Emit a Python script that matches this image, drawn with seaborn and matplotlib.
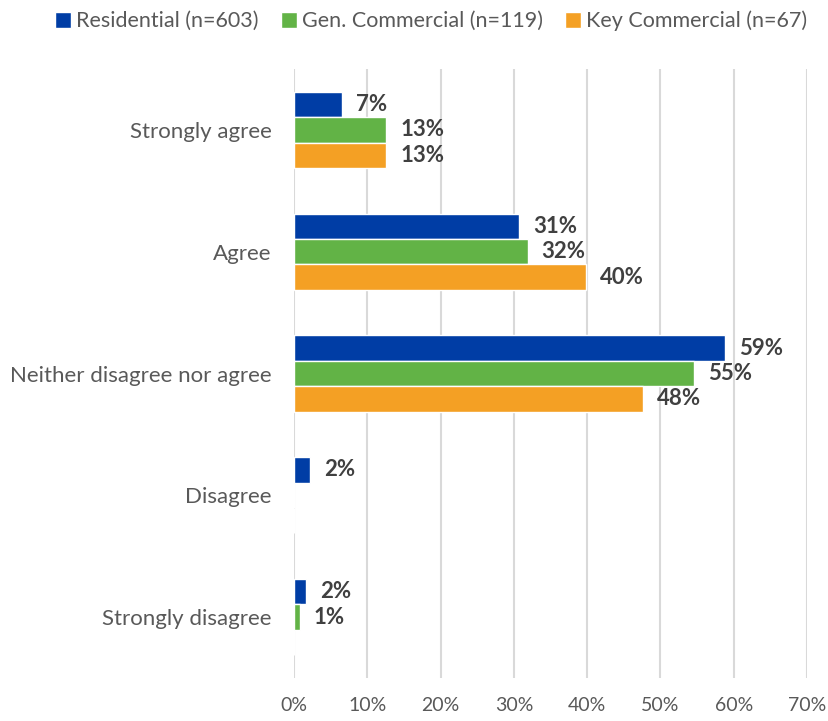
import matplotlib
matplotlib.use("Agg")
import matplotlib.pyplot as plt
import seaborn as sns
import pandas as pd

categories = ["Strongly agree", "Agree", "Neither disagree nor agree", "Disagree", "Strongly disagree"]
series = ["Residential (n=603)", "Gen. Commercial (n=119)", "Key Commercial (n=67)"]
residential = [6.6, 30.7, 58.8, 2.2, 1.7]
gen_commercial = [12.6, 31.9, 54.6, 0.0, 0.8]
key_commercial = [12.6, 39.9, 47.6, 0.0, 0.0]
colors = ["#003DA5", "#62B346", "#F4A024"]
xticks = [0, 10, 20, 30, 40, 50, 60, 70]

rows = []
for s, vals in zip(series, [residential, gen_commercial, key_commercial]):
    for c, v in zip(categories, vals):
        rows.append({"category": c, "series": s, "value": v})
df = pd.DataFrame(rows)

sns.set_theme(style="white")
plt.rcParams["font.family"] = ["Lato", "DejaVu Sans"]

fig = plt.figure(figsize=(8.29, 7.21), dpi=100)
ax = fig.add_axes([294/829, 1 - 678/721, (807-294)/829, (678-69)/721])

sns.barplot(data=df, y="category", x="value", hue="series", order=categories,
            hue_order=series, palette=colors, orient="h", width=0.625,
            saturation=1, ax=ax, legend=True)

ax.set_xlim(0, 70)
ax.set_xticks(xticks)
ax.set_xticklabels([f"{t}%" for t in xticks], color="#595959", fontsize=14)
ax.tick_params(axis="y", labelsize=16, labelcolor="#595959", length=0, pad=16)
ax.tick_params(axis="x", length=0, pad=14)
ax.set_xlabel("")
ax.set_ylabel("")
ax.grid(axis="x", color="#D9D9D9", linewidth=1.5)
ax.set_axisbelow(True)
for sp in ax.spines.values():
    sp.set_visible(False)

for cont in ax.containers:
    labels = [f"{b.get_width():.0f}%" if b.get_width() > 0 else "" for b in cont]
    ax.bar_label(cont, labels=labels, padding=10, fontsize=16,
                 fontweight="bold", color="#404040")

handles, labs = ax.get_legend_handles_labels()
ax.get_legend().remove()
fig.legend(handles, labs, loc="upper center", bbox_to_anchor=(0.52, 1.012), ncol=3,
           frameon=False, fontsize=15.5, handlelength=0.75, handleheight=0.75,
           handletextpad=0.25, columnspacing=1.0, labelcolor="#595959")

fig.savefig("out.png", dpi=100)
